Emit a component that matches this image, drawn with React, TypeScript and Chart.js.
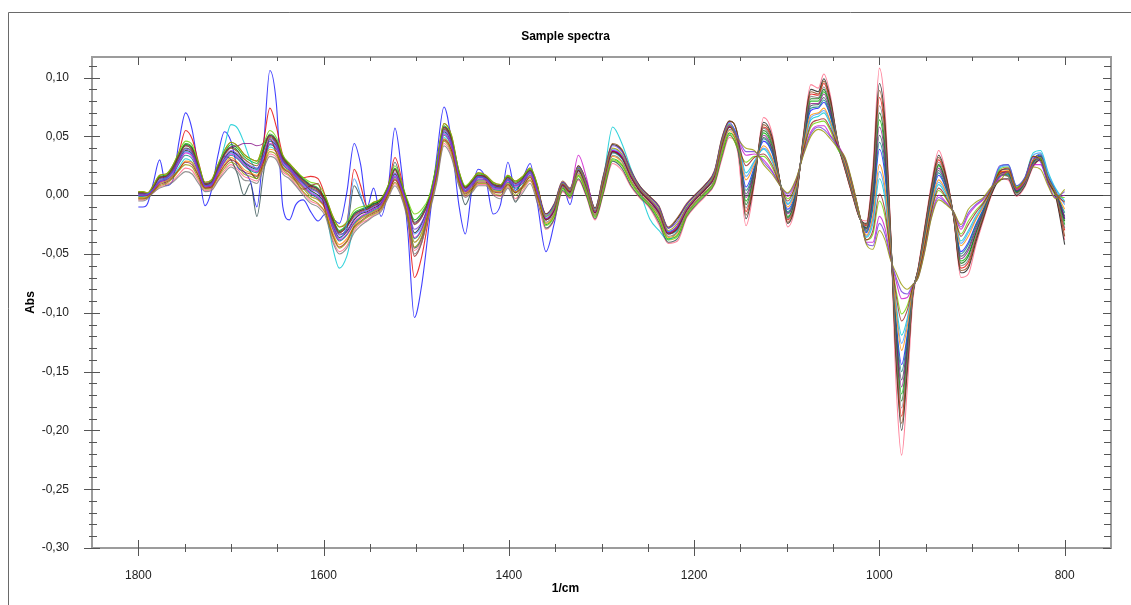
import React, { useEffect, useRef } from "react";
import { Chart, registerables } from "chart.js";

Chart.register(...registerables);

// Wavenumbers (1/cm), shared by every sample spectrum
const wavenumbers = [
  1800, 1795, 1790, 1784, 1777, 1770, 1763, 1756, 1749, 1742,
  1735, 1728, 1721, 1714, 1707, 1700, 1693, 1686, 1679, 1672,
  1665, 1658, 1651, 1644, 1637, 1630, 1622, 1614, 1606, 1598,
  1590, 1583, 1575, 1567, 1560, 1553, 1546, 1538, 1530, 1523,
  1516, 1509, 1502, 1494, 1486, 1478, 1470, 1462, 1454, 1447,
  1440, 1433, 1425, 1417, 1409, 1401, 1393, 1385, 1377, 1369,
  1360, 1351, 1342, 1334, 1325, 1316, 1307, 1298, 1288, 1278,
  1268, 1258, 1248, 1238, 1228, 1218, 1208, 1198, 1188, 1178,
  1170, 1162, 1153, 1144, 1135, 1125, 1116, 1107, 1099, 1090,
  1082, 1074, 1066, 1060, 1053, 1045, 1037, 1029, 1021, 1014,
  1007, 1000, 994, 988, 982, 976, 970, 964, 958, 951,
  944, 936, 928, 920, 912, 904, 896, 888, 879, 870,
  861, 852, 843, 834, 826, 818, 810, 800,
];

// Sample spectra, values in milli-absorbance (Abs x 1000)
const sampleBlue = [
  -10, -10, -7, 10, 30, 8, 12, 46, 70, 56,
  22, -9, 4, 34, 54, 46, 24, 20, 12, -10,
  40, 106, 78, -10, -21, -8, -4, -14, -22, -16,
  -20, -24, 2, 44, 26, -10, 6, -18, 8, 57,
  22, -32, -104, -76, -24, 32, 75, 46, -8, -33,
  4, 22, 14, -16, -8, 28, 4, 14, 27, -8,
  -48, -24, 8, -8, 22, 8, -14, 12, 38, 33,
  16, 4, -4, -13, -31, -26, -12, -2, 6, 16,
  43, 59, 47, 7, 24, 46, 36, 9, -12, 4,
  43, 72, 74, 79, 67, 41, 26, 4, -19, -32,
  -11, 39, 17, -41, -107, -144, -119, -81, -66, -37,
  -6, 17, 5, -16, -48, -40, -25, -12, 4, 16,
  18, 4, 11, 30, 34, 16, 4, -20,
];
const sampleRed = [
  3, 3, 2, 8, 17, 18, 25, 37, 55, 48,
  28, 11, 13, 26, 38, 45, 42, 35, 31, 29,
  45, 74, 58, 34, 27, 21, 15, 16, 14, -1,
  -18, -27, -23, 22, 8, -10, -6, -3, 9, 32,
  14, -20, -70, -52, -16, 26, 61, 51, 21, 7,
  13, 19, 17, 11, 9, 17, 12, 16, 23, 8,
  -21, -12, 9, 3, 21, 6, -15, 10, 37, 32,
  16, 3, -5, -14, -32, -28, -12, -3, 5, 16,
  42, 58, 46, -14, 15, 58, 47, 10, -21, -2,
  48, 86, 85, 95, 79, 45, 23, 1, -20, -26,
  12, 83, 52, -33, -133, -188, -143, -84, -63, -30,
  3, 30, 14, -18, -62, -57, -37, -18, 2, 20,
  20, 3, 12, 28, 32, 14, 2, -30,
];
const sampleCyan = [
  -2, -2, -1, 3, 10, 12, 16, 24, 31, 28,
  17, 6, 7, 22, 42, 60, 57, 45, 30, 22,
  28, 41, 37, 24, 20, 13, 6, -1, -4, -12,
  -45, -62, -52, -26, -20, -17, -14, -10, 2, 14,
  3, -15, -40, -32, -10, 17, 49, 39, 13, 2,
  6, 12, 12, 4, 3, 10, 3, 8, 16, -1,
  -18, -9, 10, 4, 24, 9, -12, 14, 58, 44,
  22, 2, -20, -30, -38, -30, -12, -2, 6, 18,
  46, 61, 49, 19, 29, 39, 29, 9, -7, 8,
  40, 64, 67, 70, 60, 40, 28, 6, -19, -36,
  -24, 14, -3, -46, -92, -119, -105, -79, -67, -41,
  -11, 9, 0, -15, -39, -30, -18, -8, 6, 24,
  26, 8, 15, 36, 38, 20, 6, -5,
];
const sampleGreen = [
  2, 2, 1, 7, 16, 17, 24, 35, 44, 41,
  26, 10, 12, 25, 36, 43, 40, 33, 29, 27,
  40, 52, 47, 33, 26, 20, 14, 9, 6, -3,
  -20, -30, -25, -15, -12, -10, -7, -4, 8, 23,
  10, -6, -21, -15, -2, 26, 59, 49, 20, 7,
  12, 18, 16, 10, 8, 16, 11, 15, 22, 7,
  -25, -17, 6, 0, 17, 2, -18, 5, 31, 26,
  11, 0, -8, -20, -37, -34, -16, -6, 2, 12,
  36, 53, 41, -5, 18, 53, 42, 10, -18, 0,
  46, 80, 80, 88, 74, 44, 24, 2, -20, -28,
  2, 64, 37, -36, -122, -169, -133, -83, -64, -33,
  0, 25, 10, -17, -56, -50, -32, -16, 3, 17,
  17, 2, 10, 27, 31, 14, 2, -25,
];
const sampleBlack = [
  1, 1, 0, 5, 12, 14, 20, 30, 38, 35,
  22, 8, 9, 21, 31, 37, 34, 28, 24, 22,
  33, 46, 42, 29, 23, 16, 10, 4, 0, -8,
  -26, -36, -31, -21, -16, -14, -11, -7, 5, 18,
  6, -10, -32, -24, -6, 22, 54, 44, 16, 4,
  9, 15, 14, 7, 6, 13, 8, 12, 19, 3,
  -16, -8, 11, 5, 25, 11, -11, 16, 43, 38,
  20, 7, -1, -10, -28, -20, -8, 1, 9, 20,
  48, 63, 51, -20, 12, 62, 50, 10, -24, -4,
  50, 90, 88, 99, 82, 46, 22, 0, -20, -24,
  18, 95, 62, -30, -140, -200, -150, -85, -62, -28,
  6, 34, 16, -18, -66, -62, -40, -20, 1, 13,
  14, 0, 8, 25, 30, 12, 0, -42,
];
const sampleMagenta = [
  0, 0, 0, 4, 11, 13, 18, 28, 36, 33,
  20, 7, 8, 19, 29, 35, 32, 26, 22, 20,
  30, 44, 40, 27, 22, 15, 8, 2, -2, -10,
  -28, -38, -33, -23, -18, -15, -12, -8, 4, 16,
  5, -12, -36, -28, -8, 20, 52, 42, 15, 3,
  8, 14, 13, 6, 5, 12, 7, 11, 18, 2,
  -20, -12, 9, 3, 34, 14, -14, 11, 38, 33,
  16, 4, -4, -14, -32, -26, -12, -2, 6, 16,
  43, 59, 47, 34, 35, 30, 21, 8, -1, 12,
  36, 54, 59, 59, 51, 43, 31, 9, -18, -40,
  -40, -18, -28, -53, -73, -88, -87, -77, -69, -46,
  -17, 0, -6, -14, -29, -17, -9, -4, 6, 15,
  20, 5, 12, 26, 26, 10, -2, 0,
];
const sampleSlate = [
  1, 1, 1, 6, 14, 15, 21, 32, 40, 37,
  23, 9, 10, 22, 33, 30, 18, 0, 10, -18,
  18, 49, 44, 30, 24, 18, 11, 6, 3, -6,
  -24, -33, -29, 8, -2, -12, -7, -8, 6, 28,
  10, -14, -45, -36, -10, 23, 56, 46, 12, -8,
  4, 16, 15, 8, 7, 14, -6, 8, 20, 5,
  -28, -20, 4, -2, 14, -1, -20, 2, 29, 23,
  8, -2, -10, -23, -40, -37, -18, -8, 0, 10,
  33, 51, 39, 1, 21, 49, 39, 9, -15, 2,
  44, 76, 77, 83, 70, 42, 25, 3, -19, -30,
  -4, 51, 27, -39, -114, -157, -126, -82, -65, -35,
  -3, 21, 8, -17, -52, -45, -28, -14, 4, 21,
  22, 5, 12, 30, 35, 16, 4, -18,
];
const sampleOlive = [
  -3, -3, -2, 3, 8, 10, 14, 21, 26, 24,
  14, 5, 6, 15, 23, 28, 25, 18, 16, 14,
  25, 37, 34, 22, 17, 11, 3, -3, -7, -15,
  -35, -45, -40, -28, -23, -19, -16, -12, 0, 11,
  1, -18, -44, -35, -13, 14, 46, 36, 11, 0,
  4, 10, 10, 2, 0, 8, 0, 6, 13, -3,
  -18, -10, 10, 4, 23, 8, -13, 13, 40, 35,
  18, 5, -3, -12, -30, -24, -10, -1, 7, 18,
  45, 60, 48, 40, 38, 26, 18, 8, 2, 14,
  34, 50, 56, 54, 48, 40, 32, 10, -18, -42,
  -46, -30, -38, -55, -66, -76, -80, -76, -70, -48,
  -20, -4, -8, -14, -25, -12, -6, -2, 7, 12,
  20, 6, 13, 24, 22, 8, -3, 5,
];
const sampleOrange = [
  -2, -2, -1, 3, 10, 12, 16, 22, 29, 28,
  17, 6, 7, 17, 26, 32, 28, 22, 19, 17,
  28, 39, 37, 24, 20, 13, 6, -1, -4, -12,
  -32, -42, -37, -26, -20, -17, -14, -10, 2, 14,
  3, -15, -40, -32, -10, 17, 48, 39, 13, 2,
  6, 12, 12, 4, 3, 10, 3, 8, 16, -1,
  -24, -16, 7, 1, 18, 3, -17, 6, 33, 28,
  12, 1, -7, -18, -36, -32, -15, -5, 3, 13,
  38, 55, 43, 13, 26, 42, 32, 9, -10, 6,
  41, 68, 70, 74, 63, 44, 27, 5, -19, -34,
  -17, 26, 7, -44, -99, -132, -112, -80, -66, -39,
  -8, 13, 3, -16, -43, -35, -21, -10, 5, 19,
  21, 5, 12, 30, 32, 14, 3, -12,
];
const sampleBrown = [
  2, 2, 1, 6, 15, 16, 22, 33, 42, 38,
  24, 9, 11, 23, 34, 40, 37, 31, 27, 25,
  37, 50, 45, 31, 25, 18, 12, 7, 4, -5,
  -22, -32, -27, -18, -14, -12, -9, -5, 7, 21,
  8, -8, -25, -19, -4, 24, 57, 47, 18, 6,
  11, 17, 15, 9, 7, 15, 10, 14, 21, 6,
  -16, -7, 12, 6, 25, 11, -11, 17, 44, 39,
  21, 7, -1, -9, -27, -19, -7, 1, 9, 21,
  49, 63, 51, -17, 13, 60, 48, 10, -23, -3,
  49, 88, 86, 97, 80, 45, 22, 0, -20, -25,
  15, 89, 57, -31, -136, -194, -147, -85, -62, -29,
  5, 32, 15, -18, -64, -60, -38, -19, 2, 18,
  16, 2, 10, 27, 33, 15, 2, -35,
];
const samplePink = [
  -4, -4, -2, 2, 7, 9, 12, 18, 23, 21,
  12, 4, 5, 13, 21, 26, 22, 16, 14, 12,
  24, 35, 32, 20, 16, 9, 2, -5, -8, -16,
  -38, -48, -43, -30, -24, -21, -17, -13, -1, 10,
  -1, -20, -47, -38, -14, 12, 44, 34, 9, -1,
  3, 9, 9, 1, -1, 7, -3, 4, 12, -5,
  -29, -21, 3, -3, 13, -2, -21, 1, 27, 21,
  7, -3, -11, -25, -41, -39, -19, -9, -1, 9,
  31, 49, 37, -26, 9, 66, 53, 10, -27, -6,
  52, 94, 91, 103, 85, 44, 21, -1, -20, -22,
  24, 108, 72, -28, -160, -221, -165, -90, -61, -26,
  9, 38, 18, -18, -70, -67, -43, -22, 0, 14,
  13, -1, 7, 24, 30, 12, 0, -38,
];
const sampleLime = [
  3, 3, 2, 8, 17, 18, 25, 37, 46, 43,
  27, 11, 13, 26, 38, 45, 42, 35, 31, 29,
  43, 55, 49, 34, 27, 21, 15, 11, 9, -1,
  -18, -27, -23, -13, -10, -9, -6, -3, 9, 25,
  11, -5, -16, -12, -1, 27, 61, 51, 21, 8,
  13, 19, 17, 11, 9, 17, 12, 16, 23, 8,
  -26, -18, 5, -1, 16, 1, -19, 4, 30, 25,
  10, -1, -9, -21, -38, -35, -17, -7, 1, 11,
  35, 52, 40, 28, 33, 33, 24, 8, -3, 10,
  37, 58, 62, 63, 55, 39, 30, 8, -18, -38,
  -33, -5, -18, -50, -81, -101, -94, -78, -68, -44,
  -15, 4, -3, -15, -33, -22, -13, -6, 6, 22,
  24, 7, 14, 33, 30, 12, 0, -2,
];
const sampleTeal = [
  -1, -1, 0, 4, 11, 13, 17, 27, 34, 31,
  19, 7, 8, 18, 28, 34, 31, 25, 21, 19,
  29, 43, 39, 26, 21, 14, 7, 1, -3, -11,
  -29, -39, -34, -24, -19, -16, -13, -9, 3, 15,
  4, -13, -37, -29, -9, 19, 51, 41, 14, 3,
  7, 13, 13, 5, 4, 11, 6, 10, 17, 1,
  -21, -13, 8, 2, 21, 6, -15, 9, 36, 31,
  15, 3, -5, -15, -33, -29, -13, -3, 5, 15,
  41, 58, 46, 4, 22, 48, 37, 9, -14, 3,
  44, 74, 75, 81, 68, 43, 26, 4, -19, -31,
  -8, 45, 22, -40, -110, -150, -122, -81, -65, -36,
  -4, 19, 6, -16, -50, -42, -26, -13, 4, 16,
  18, 3, 11, 28, 33, 15, 3, -15,
];
const sampleViolet = [
  1, 1, 1, 5, 13, 15, 20, 31, 39, 36,
  22, 8, 10, 21, 32, 38, 35, 29, 25, 23,
  34, 48, 43, 29, 24, 17, 10, 5, 2, -7,
  -25, -34, -30, -20, -15, -13, -10, -6, 6, 19,
  7, -10, -29, -23, -6, 22, 55, 45, 17, 5,
  10, 16, 14, 8, 6, 14, 9, 13, 20, 4,
  -17, -8, 11, 5, 24, 10, -12, 15, 42, 37,
  20, 6, -2, -10, -28, -22, -8, 0, 8, 20,
  47, 62, 50, 37, 37, 28, 20, 8, 1, 13,
  35, 52, 58, 56, 50, 41, 31, 9, -18, -41,
  -43, -24, -33, -54, -70, -82, -84, -76, -70, -47,
  -19, -2, -7, -14, -27, -15, -8, -3, 7, 25,
  26, 8, 15, 32, 28, 10, -2, 3,
];
const sampleGray = [
  -5, -5, -3, 2, 6, 8, 11, 16, 20, 18,
  10, 3, 4, 12, 19, 24, 20, 13, 12, 10,
  22, 33, 30, 18, 14, 8, 0, -7, -10, -18,
  -40, -50, -45, -32, -26, -22, -18, -14, -2, 8,
  -2, -22, -50, -40, -16, 10, 42, 32, 8, -2,
  2, 8, 8, 0, -3, 6, -5, 2, 10, -7,
  -23, -15, 7, 1, 19, 4, -17, 7, 34, 29,
  13, 1, -7, -17, -35, -31, -15, -5, 3, 13,
  39, 56, 44, -11, 16, 57, 45, 10, -20, -1,
  48, 84, 83, 92, 77, 46, 23, 1, -20, -27,
  8, 76, 47, -34, -129, -181, -140, -84, -63, -31,
  2, 28, 12, -17, -60, -55, -35, -17, 3, 17,
  16, 1, 9, 26, 32, 14, 2, -28,
];
const sampleDarkGreen = [
  2, 2, 1, 6, 15, 16, 23, 34, 43, 40,
  25, 9, 11, 24, 35, 41, 38, 28, 20, 14,
  38, 51, 46, 32, 25, 19, 13, 8, 5, -4,
  -21, -31, -26, -16, -13, -11, -8, -4, 7, 22,
  9, -7, -23, -17, -3, 25, 58, 48, 19, 6,
  11, 17, 15, 9, 7, 15, 2, 14, 21, 6,
  -20, -12, 9, 3, 21, 6, -14, 11, 37, 32,
  16, 3, -4, -14, -32, -26, -11, -2, 5, 16,
  42, 58, 46, -8, 17, 55, 44, 10, -19, 0,
  47, 82, 82, 90, 75, 44, 24, 2, -20, -28,
  5, 70, 42, -35, -125, -175, -136, -83, -64, -32,
  1, 26, 11, -17, -58, -52, -33, -16, 3, 19,
  19, 3, 11, 29, 31, 14, 2, -22,
];
const sampleDarkRed = [
  -3, -3, -2, 3, 9, 11, 15, 22, 28, 26,
  16, 6, 7, 16, 25, 30, 27, 20, 18, 16,
  27, 48, 36, 23, 19, 12, 5, 8, 10, -14,
  -34, -44, -39, -27, -22, -18, -15, -11, 1, 13,
  2, -20, -52, -40, -12, 16, 47, 38, 12, 1,
  5, 11, 11, 3, 2, 9, 2, 7, 15, -2,
  -21, -13, 9, 3, 21, 6, -15, 10, 37, 32,
  15, 3, -5, -15, -33, -28, -13, -3, 5, 16,
  42, 58, 46, 25, 32, 35, 26, 8, -5, 10,
  38, 60, 64, 65, 57, 42, 30, 8, -18, -38,
  -30, 1, -13, -49, -85, -107, -98, -78, -68, -43,
  -14, 6, -2, -15, -35, -25, -15, -7, 5, 20,
  23, 6, 14, 33, 29, 12, 1, -6,
];
const sampleLightBlue = [
  0, 0, 1, 5, 12, 14, 19, 29, 37, 34,
  21, 8, 9, 20, 30, 36, 33, 27, 23, 21,
  32, 46, 41, 28, 23, 16, 9, 3, -1, -9,
  -27, -37, -25, 14, 0, -15, -12, -8, 5, 17,
  6, -12, -33, -26, -8, 21, 53, 43, 16, 4,
  9, 15, 14, 7, 5, 13, 8, 12, 19, 3,
  -19, -11, 10, 4, 23, 8, -14, 12, 39, 34,
  18, 5, -4, -13, -31, -26, -11, -2, 7, 18,
  44, 60, 48, 16, 28, 40, 31, 9, -8, 7,
  40, 66, 69, 72, 62, 43, 28, 6, -19, -35,
  -20, 20, 2, -45, -96, -126, -108, -80, -67, -40,
  -10, 11, 2, -16, -41, -32, -20, -9, 6, 23,
  25, 7, 14, 34, 36, 18, 5, -8,
];
const samplePurple = [
  2, 2, 1, 7, 15, 16, 23, 34, 42, 39,
  25, 10, 11, 24, 35, 41, 42, 44, 44, 42,
  44, 51, 46, 32, 25, 19, 13, 8, 5, -5,
  -22, -32, -27, -17, -13, -12, -9, -5, 7, 22,
  9, -8, -24, -18, -4, 25, 58, 48, 19, 6,
  11, 17, 16, 9, 8, 15, 10, 14, 21, 6,
  -21, -13, 8, 2, 21, 6, -15, 10, 37, 32,
  15, 3, -5, -16, -33, -28, -13, -3, 5, 16,
  42, 58, 46, -2, 20, 51, 40, 9, -16, 1,
  45, 78, 78, 86, 72, 43, 25, 3, -19, -29,
  -1, 58, 32, -38, -118, -163, -129, -82, -64, -34,
  -2, 23, 9, -17, -54, -47, -30, -15, 4, 18,
  20, 4, 11, 29, 33, 15, 3, -20,
];

const xTickValues = [1800, 1600, 1400, 1200, 1000, 800];
const yTickValues = [-0.3, -0.25, -0.2, -0.15, -0.1, -0.05, 0, 0.05, 0.1];

const MILLI = 1000;
const FONT = '"Liberation Sans", Arial, Helvetica, sans-serif';

const seriesList: { values: number[]; color: string }[] = [
  { values: sampleGray, color: "rgba(120,120,120,0.8)" },
  { values: sampleOlive, color: "rgba(150,150,0,0.8)" },
  { values: sampleViolet, color: "rgba(110,60,220,0.8)" },
  { values: sampleDarkRed, color: "rgba(150,20,20,0.75)" },
  { values: sampleLime, color: "rgba(110,210,0,0.8)" },
  { values: sampleMagenta, color: "rgba(200,0,200,0.75)" },
  { values: sampleOrange, color: "rgba(255,140,0,0.8)" },
  { values: sampleLightBlue, color: "rgba(60,150,255,0.8)" },
  { values: sampleTeal, color: "rgba(0,128,128,0.8)" },
  { values: sampleBrown, color: "rgba(139,69,19,0.8)" },
  { values: samplePurple, color: "rgba(128,0,128,0.75)" },
  { values: sampleSlate, color: "rgba(47,79,79,0.8)" },
  { values: sampleCyan, color: "rgba(0,200,210,0.8)" },
  { values: sampleDarkGreen, color: "rgba(0,100,0,0.8)" },
  { values: sampleBlack, color: "rgba(20,20,20,0.8)" },
  { values: sampleGreen, color: "rgba(0,170,0,0.8)" },
  { values: samplePink, color: "rgba(255,100,130,0.8)" },
  { values: sampleRed, color: "rgba(230,0,0,0.8)" },
  { values: sampleBlue, color: "rgba(0,0,255,0.75)" },
];

const framePlugin = {
  id: "spectraFrame",
  beforeDatasetsDraw(chart: any) {
    const { ctx, chartArea: a, scales } = chart;
    ctx.save();
    ctx.strokeStyle = "#6a6a6a";
    ctx.lineWidth = 1;
    ctx.beginPath();
    ctx.moveTo(8.5, chart.height);
    ctx.lineTo(8.5, 12.5);
    ctx.lineTo(chart.width, 12.5);
    ctx.stroke();
    const y0 = Math.round(scales.y.getPixelForValue(0)) + 0.5;
    ctx.strokeStyle = "#3c3c3c";
    ctx.beginPath();
    ctx.moveTo(a.left, y0);
    ctx.lineTo(a.right, y0);
    ctx.stroke();
    ctx.restore();
  },
  afterDatasetsDraw(chart: any) {
    const { ctx, chartArea: a, scales } = chart;
    const { x, y } = scales;
    ctx.save();
    ctx.strokeStyle = "#9c9c9c";
    ctx.lineWidth = 2;
    ctx.strokeRect(a.left, a.top, a.right - a.left, a.bottom - a.top);
    ctx.strokeStyle = "#555555";
    ctx.lineWidth = 1;
    ctx.beginPath();
    for (let k = -30; k <= 11; k++) {
      const py = Math.round(y.getPixelForValue(k / 100)) + 0.5;
      const major = k % 5 === 0;
      ctx.moveTo(a.left - (major ? 8 : 3), py);
      ctx.lineTo(a.left + (major ? 8 : 5), py);
      ctx.moveTo(a.right - (major ? 8 : 7), py);
      ctx.lineTo(a.right, py);
    }
    for (let w = 800; w <= 1800; w += 50) {
      const px = Math.round(x.getPixelForValue(w)) + 0.5;
      const major = w % 200 === 0;
      ctx.moveTo(px, a.bottom - (major ? 8 : 4));
      ctx.lineTo(px, a.bottom + (major ? 8 : 4));
      ctx.moveTo(px, a.top);
      ctx.lineTo(px, a.top + (major ? 8 : 4));
    }
    ctx.stroke();
    ctx.restore();
  },
  afterDraw(chart: any) {
    const { ctx, chartArea: a } = chart;
    ctx.save();
    ctx.fillStyle = "#000";
    ctx.font = `bold 12px ${FONT}`;
    ctx.textAlign = "center";
    ctx.textBaseline = "middle";
    ctx.fillText("Sample spectra", chart.width / 2, 37);
    ctx.fillText("1/cm", chart.width / 2, 589);
    ctx.translate(31, (a.top + a.bottom) / 2);
    ctx.rotate(-Math.PI / 2);
    ctx.fillText("Abs", 0, 0);
    ctx.restore();
  },
};

export default function App() {
  const canvasRef = useRef<HTMLCanvasElement>(null);

  useEffect(() => {
    const canvas = canvasRef.current;
    if (!canvas) return;
    const datasets = seriesList.map((s, i) => ({
      label: `Sample ${i + 1}`,
      data: wavenumbers.map((w, j) => ({ x: w, y: s.values[j] / MILLI })),
      borderColor: s.color,
      backgroundColor: s.color,
      borderWidth: 1.1,
      pointRadius: 0,
      fill: false,
      cubicInterpolationMode: "monotone" as const,
    }));
    const chart = new Chart(canvas, {
      type: "line",
      data: { datasets },
      plugins: [framePlugin],
      options: {
        animation: false,
        responsive: false,
        maintainAspectRatio: false,
        events: [],
        layout: { padding: { top: 57, right: 20, bottom: 0, left: 0 } },
        plugins: {
          legend: { display: false },
          tooltip: { enabled: false },
          title: { display: false },
        },
        scales: {
          x: {
            type: "linear",
            reverse: true,
            min: 750,
            max: 1850,
            grid: { display: false },
            border: { display: false },
            afterFit: (s: any) => {
              s.height = 57;
            },
            afterBuildTicks: (s: any) => {
              s.ticks = xTickValues.map((v) => ({ value: v }));
            },
            ticks: {
              autoSkip: false,
              maxRotation: 0,
              padding: 12,
              color: "#222",
              font: { family: FONT, size: 12 },
              callback: (v: any) => String(v),
            },
          },
          y: {
            type: "linear",
            min: -0.3,
            max: 0.1175,
            grid: { display: false },
            border: { display: false },
            afterFit: (s: any) => {
              s.width = 92;
            },
            afterBuildTicks: (s: any) => {
              s.ticks = yTickValues.map((v) => ({ value: v }));
            },
            ticks: {
              autoSkip: false,
              padding: 15,
              color: "#222",
              font: { family: FONT, size: 12 },
              callback: (v: any) => Number(v).toFixed(2).replace(".", ","),
            },
          },
        },
      },
    });
    return () => chart.destroy();
  }, []);

  return (
    <div
      style={{
        position: "fixed",
        left: 0,
        top: 0,
        width: 1131,
        height: 605,
        background: "#fff",
      }}
    >
      <canvas ref={canvasRef} width={1131} height={605} style={{ display: "block" }} />
    </div>
  );
}
